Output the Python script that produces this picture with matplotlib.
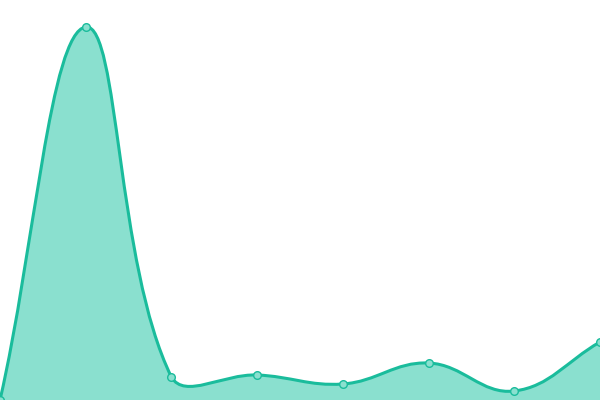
import numpy as np
import matplotlib
matplotlib.use("Agg")
import matplotlib.pyplot as plt
from matplotlib.path import Path
from matplotlib.patches import PathPatch

labels = ["A", "B", "C", "D", "E", "F", "G", "H"]
values = [0, 373, 23, 25, 16, 37, 9, 58]

LINE = "#1abc9c"
FILL = "#8ae0cf"

fig = plt.figure(figsize=(6, 4), dpi=100)
ax = fig.add_axes([0, 0, 1, 1])
ax.set_xlim(0, len(values) - 1)
ax.set_ylim(0, 400)
ax.axis("off")

# Chart.js-like spline (tension 0.4) computed in display space
xs = np.arange(len(values), dtype=float)
pts = ax.transData.transform(np.column_stack([xs, values]))
t = 0.4
n = len(pts)
cp_prev = pts.copy()
cp_next = pts.copy()
for i in range(n):
    p = pts[max(i - 1, 0)]
    c = pts[i]
    nx = pts[min(i + 1, n - 1)]
    d01 = np.hypot(*(c - p))
    d12 = np.hypot(*(nx - c))
    tot = d01 + d12
    s01 = d01 / tot if tot else 0
    s12 = d12 / tot if tot else 0
    cp_prev[i] = c - t * s01 * (nx - p)
    cp_next[i] = c + t * s12 * (nx - p)

bbox = ax.bbox
cp_prev[:, 1] = np.clip(cp_prev[:, 1], bbox.y0, bbox.y1)
cp_next[:, 1] = np.clip(cp_next[:, 1], bbox.y0, bbox.y1)

inv = ax.transData.inverted()
P = inv.transform(pts)
CP = inv.transform(cp_prev)
CN = inv.transform(cp_next)

verts = [P[0]]
codes = [Path.MOVETO]
for i in range(n - 1):
    verts += [CN[i], CP[i + 1], P[i + 1]]
    codes += [Path.CURVE4] * 3
line_path = Path(verts, codes)

fill_verts = verts + [(xs[-1], 0), (xs[0], 0), P[0]]
fill_codes = codes + [Path.LINETO, Path.LINETO, Path.CLOSEPOLY]
ax.add_patch(PathPatch(Path(fill_verts, fill_codes), facecolor=FILL, edgecolor="none", zorder=1))
ax.add_patch(PathPatch(line_path, facecolor="none", edgecolor=LINE, linewidth=2.2, zorder=2))

ax.plot(xs, values, linestyle="none", marker="o", markersize=5.5,
        markerfacecolor=FILL, markeredgecolor=LINE, markeredgewidth=1.0,
        zorder=3, clip_on=False)

fig.savefig("out.png", dpi=100)
